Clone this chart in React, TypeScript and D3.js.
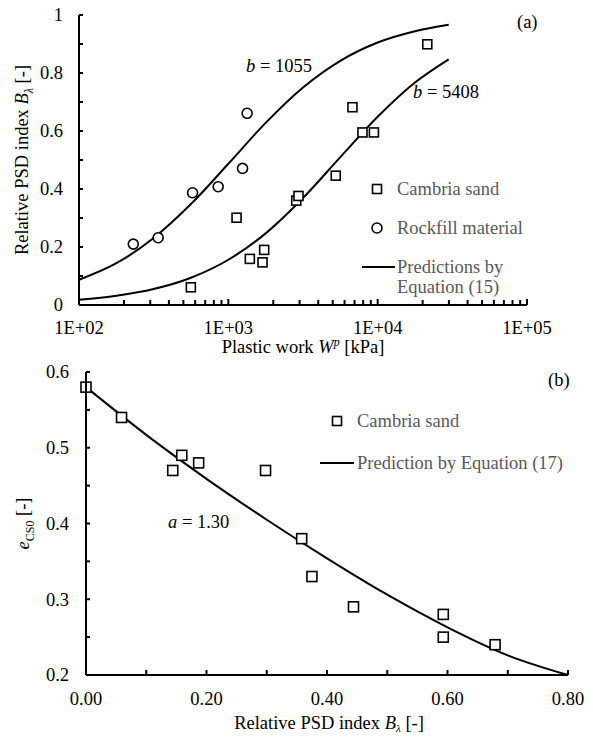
import React from "react";
import * as d3 from "d3";

// ---- Panel (a) data ----
const cambriaW = [561, 1135, 1393, 1694, 1738, 2850, 2950, 5240, 6780, 7910, 9440, 21500];
const cambriaB = [0.061, 0.301, 0.159, 0.147, 0.19, 0.36, 0.376, 0.446, 0.682, 0.595, 0.595, 0.899];
const rockW = [231, 339, 576, 855, 1245, 1336];
const rockB = [0.21, 0.232, 0.387, 0.408, 0.471, 0.661];
const curveW = [100, 178, 316, 562, 1000, 1778, 3162, 5623, 10000, 17783, 29900];
const curve1055 = [0.087, 0.144, 0.231, 0.348, 0.487, 0.628, 0.75, 0.842, 0.905, 0.944, 0.966];
const curve5408 = [0.018, 0.032, 0.055, 0.094, 0.156, 0.247, 0.369, 0.51, 0.649, 0.767, 0.847];
const topXMajor = [100, 1000, 10000, 100000];
const topXLabels = ["1E+02", "1E+03", "1E+04", "1E+05"];
const topYLabels = ["0", "0.2", "0.4", "0.6", "0.8", "1"];

// ---- Panel (b) data ----
const sandB = [0, 0.059, 0.144, 0.159, 0.187, 0.298, 0.358, 0.375, 0.444, 0.593, 0.593, 0.679];
const sandE = [0.58, 0.54, 0.47, 0.49, 0.48, 0.47, 0.38, 0.33, 0.29, 0.28, 0.25, 0.24];
const predB = [0, 0.1, 0.2, 0.3, 0.4, 0.5, 0.6, 0.7, 0.8];
const predE = [0.58, 0.517, 0.459, 0.405, 0.354, 0.306, 0.263, 0.226, 0.2];
const botXLabels = ["0.00", "0.20", "0.40", "0.60", "0.80"];
const botYLabels = ["0.2", "0.3", "0.4", "0.5", "0.6"];

const FONT = "'Liberation Serif', 'Times New Roman', serif";
const FS = 18.5;
const GRAY = "#595959";

export default function App() {
  const xT = d3.scaleLog().domain([100, 100000]).range([79, 527]);
  const yT = d3.scaleLinear().domain([0, 1]).range([305, 15]);
  const xB = d3.scaleLinear().domain([0, 0.8]).range([86, 568]);
  const yB = d3.scaleLinear().domain([0.2, 0.6]).range([675, 372]);

  const lineT = d3
    .line<[number, number]>()
    .x((d) => xT(d[0]))
    .y((d) => yT(d[1]))
    .curve(d3.curveMonotoneX);
  const lineB = d3
    .line<[number, number]>()
    .x((d) => xB(d[0]))
    .y((d) => yB(d[1]))
    .curve(d3.curveMonotoneX);

  const xTicksT = xT.ticks();
  const yTicksT = d3.range(0, 1.0001, 0.1);
  const xTicksB = d3.range(0, 0.8001, 0.1);
  const yTicksB = d3.range(0.2, 0.6001, 0.05);

  const sq = (cx: number, cy: number, key: string, s = 9) => (
    <rect key={key} x={cx - s / 2} y={cy - s / 2} width={s} height={s} fill="white" stroke="black" strokeWidth={1.6} />
  );

  return (
    <svg width={593} height={737} style={{ position: "absolute", left: 0, top: 0, background: "white" }} fontFamily={FONT}>
      <rect width={593} height={737} fill="white" />
      {/* ===== Panel (a) ===== */}
      <g>
        <path d={lineT(curveW.map((w, i) => [w, curve1055[i]]) as any) || ""} fill="none" stroke="black" strokeWidth={2} />
        <path d={lineT(curveW.map((w, i) => [w, curve5408[i]]) as any) || ""} fill="none" stroke="black" strokeWidth={2} />
        {cambriaW.map((w, i) => sq(xT(w), yT(cambriaB[i]), "ca" + i))}
        {rockW.map((w, i) => (
          <circle key={"r" + i} cx={xT(w)} cy={yT(rockB[i])} r={5} fill="white" stroke="black" strokeWidth={1.6} />
        ))}
        <line x1={79} x2={79} y1={yT(1)} y2={yT(0)} stroke="black" strokeWidth={2} />
        <line x1={79} x2={527} y1={305} y2={305} stroke="black" strokeWidth={2} />
        {yTicksT.map((t, i) => (
          <line key={"yt" + i} x1={79} x2={83} y1={yT(t)} y2={yT(t)} stroke="black" strokeWidth={2} />
        ))}
        {xTicksT.map((t, i) => (
          <line key={"xt" + i} x1={xT(t)} x2={xT(t)} y1={305} y2={topXMajor.includes(t) ? 299 : 300} stroke="black" strokeWidth={2} />
        ))}
        {topYLabels.map((l, i) => (
          <text key={"yl" + i} x={63} y={yT(i * 0.2)} dy="0.35em" textAnchor="end" fontSize={FS}>
            {l}
          </text>
        ))}
        {topXMajor.map((t, i) => (
          <text key={"xl" + i} x={xT(t)} y={334} textAnchor="middle" fontSize={FS}>
            {topXLabels[i]}
          </text>
        ))}
        <text x={303} y={353} textAnchor="middle" fontSize={FS}>
          Plastic work <tspan fontStyle="italic">W</tspan>
          <tspan fontStyle="italic" fontSize={12} dy={-7}>p</tspan>
          <tspan dy={7}> [kPa]</tspan>
        </text>
        <text transform={`translate(28,${(yT(0) + yT(1)) / 2}) rotate(-90)`} textAnchor="middle" fontSize={FS}>
          Relative PSD index <tspan fontStyle="italic">B</tspan>
          <tspan fontStyle="italic" fontSize={12} dy={5}>λ</tspan>
          <tspan dy={-5}> [-]</tspan>
        </text>
        <text x={517} y={28} fontSize={FS}>(a)</text>
        <text x={246} y={72} fontSize={FS}>
          <tspan fontStyle="italic">b</tspan> = 1055
        </text>
        <text x={413} y={98} fontSize={FS}>
          <tspan fontStyle="italic">b</tspan> = 5408
        </text>
        {sq(377, 189, "lg1")}
        <text x={397} y={195} fontSize={FS} fill={GRAY}>Cambria sand</text>
        <circle cx={377} cy={228} r={5} fill="white" stroke="black" strokeWidth={1.6} />
        <text x={397} y={234} fontSize={FS} fill={GRAY}>Rockfill material</text>
        <line x1={362} x2={395} y1={267} y2={267} stroke="black" strokeWidth={2} />
        <text x={397} y={273} fontSize={FS} fill={GRAY}>Predictions by</text>
        <text x={397} y={293} fontSize={FS} fill={GRAY}>Equation (15)</text>
      </g>

      {/* ===== Panel (b) ===== */}
      <g>
        <path d={lineB(predB.map((b, i) => [b, predE[i]]) as any) || ""} fill="none" stroke="black" strokeWidth={2} />
        {sandB.map((b, i) => sq(xB(b), yB(sandE[i]), "sb" + i, 10))}
        <line x1={86} x2={86} y1={yB(0.6)} y2={yB(0.2)} stroke="black" strokeWidth={2} />
        <line x1={86} x2={568} y1={675} y2={675} stroke="black" strokeWidth={2} />
        {yTicksB.map((t, i) => (
          <line key={"ybt" + i} x1={86} x2={90} y1={yB(t)} y2={yB(t)} stroke="black" strokeWidth={2} />
        ))}
        {xTicksB.map((t, i) => (
          <line key={"xbt" + i} x1={xB(t)} x2={xB(t)} y1={675} y2={670} stroke="black" strokeWidth={2} />
        ))}
        {botYLabels.map((l, i) => (
          <text key={"ybl" + i} x={69} y={yB(0.2 + i * 0.1)} dy="0.35em" textAnchor="end" fontSize={FS}>
            {l}
          </text>
        ))}
        {botXLabels.map((l, i) => (
          <text key={"xbl" + i} x={xB(i * 0.2)} y={705} textAnchor="middle" fontSize={FS}>
            {l}
          </text>
        ))}
        <text x={329} y={729} textAnchor="middle" fontSize={FS}>
          Relative PSD index <tspan fontStyle="italic">B</tspan>
          <tspan fontStyle="italic" fontSize={11} dy={3}>λ</tspan>
          <tspan dy={-3}> [-]</tspan>
        </text>
        <text transform={`translate(29,${(yB(0.2) + yB(0.6)) / 2}) rotate(-90)`} textAnchor="middle" fontSize={FS}>
          <tspan fontStyle="italic">e</tspan>
          <tspan fontSize={12} dy={5}>CS0</tspan>
          <tspan dy={-5}> [-]</tspan>
        </text>
        <text x={548} y={386} fontSize={FS}>(b)</text>
        <text x={168} y={528} fontSize={FS}>
          <tspan fontStyle="italic">a</tspan> = 1.30
        </text>
        {sq(337, 421, "lg2")}
        <text x={357} y={427} fontSize={FS} fill={GRAY}>Cambria sand</text>
        <line x1={320} x2={354} y1={463} y2={463} stroke="black" strokeWidth={2} />
        <text x={357} y={469} fontSize={FS} fill={GRAY}>Prediction by Equation (17)</text>
      </g>
    </svg>
  );
}
